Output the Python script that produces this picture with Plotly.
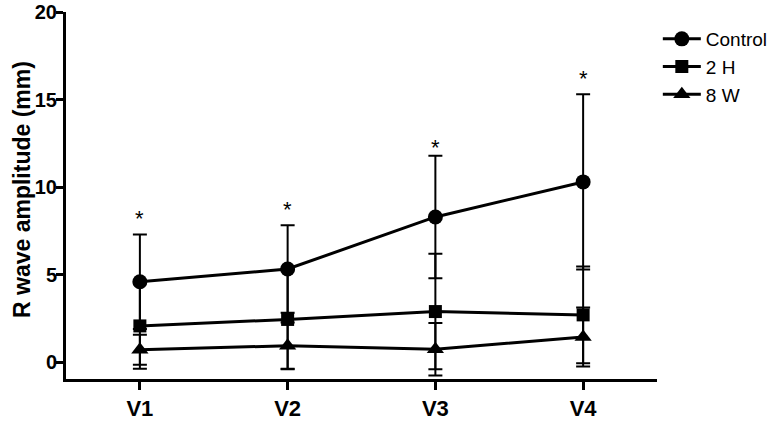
import plotly.graph_objects as go

categories = ["V1", "V2", "V3", "V4"]
series_names = ["Control", "2 H", "8 W"]
control_mean = [4.6, 5.33, 8.3, 10.3]
control_sd = [2.7, 2.5, 3.5, 5.0]
h2_mean = [2.08, 2.45, 2.9, 2.71]
h2_sd = [2.45, 2.85, 3.3, 2.76]
w8_mean = [0.72, 0.95, 0.75, 1.45]
w8_sd = [0.86, 1.32, 1.5, 1.68]
star_y = [8.2, 8.75, 12.25, 16.2]
y_title = "R wave amplitude (mm)"

font_family = "Arial, Liberation Sans, sans-serif"

fig = go.Figure()
symbols = ["circle", "square", "triangle-up"]
sizes = [15, 13, 15]
for name, m, s, sym, sz in zip(series_names, [control_mean, h2_mean, w8_mean],
                               [control_sd, h2_sd, w8_sd], symbols, sizes):
    fig.add_trace(go.Scatter(
        x=categories, y=m, name=name, mode="lines+markers", legendgroup=name,
        line=dict(color="black", width=3),
        marker=dict(symbol=sym, size=sz, color="black"),
        error_y=dict(type="data", array=s, visible=True, color="black",
                     thickness=2, width=7),
    ))

for c, yv in zip(categories, star_y):
    fig.add_annotation(x=c, y=yv, text="*", showarrow=False,
                       font=dict(size=22, color="black", family=font_family),
                       yanchor="middle")

fig.add_annotation(xref="paper", yref="paper", x=0, y=0.515, xshift=-44,
                   text="<b>" + y_title + "</b>", textangle=-90, showarrow=False,
                   xanchor="center", yanchor="middle",
                   font=dict(size=23, family=font_family, color="black"))

fig.update_layout(
    width=773, height=426,
    margin=dict(l=66, r=116, t=12, b=47),
    plot_bgcolor="white", paper_bgcolor="white",
    showlegend=True,
    legend=dict(xref="container", yref="container", x=0.851, y=0.953,
                xanchor="left", yanchor="top",
                font=dict(size=19, family=font_family, color="black"),
                bgcolor="rgba(0,0,0,0)", tracegroupgap=0, itemwidth=38),
    font=dict(family=font_family, color="black"),
)
fig.update_xaxes(
    type="category", range=[-0.5, 3.5], automargin=False,
    showline=True, linecolor="black", linewidth=3,
    ticks="outside", ticklen=8, tickwidth=3, tickcolor="black",
    tickfont=dict(size=22, family=font_family, color="black", weight="bold"),
    showgrid=False, zeroline=False,
)
fig.update_yaxes(
    range=[-0.95, 20], tickvals=[0, 5, 10, 15, 20], automargin=False,
    ticklabeloverflow="allow", ticklabelstandoff=-5,
    showline=True, linecolor="black", linewidth=3,
    ticks="outside", ticklen=7, tickwidth=3, tickcolor="black",
    tickfont=dict(size=20, family=font_family, color="black", weight="bold"),
    showgrid=False, zeroline=False,
)

fig.write_html("out.html",
               config={"displayModeBar": False},
               post_script="document.body.style.margin='0';document.body.style.padding='0';")
